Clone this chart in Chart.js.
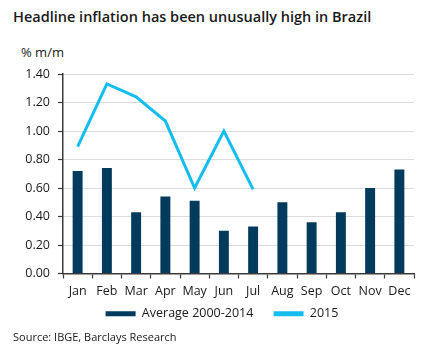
<!DOCTYPE html>
<html>
<head>
<meta charset="utf-8">
<script src="https://cdn.jsdelivr.net/npm/chart.js@4/dist/chart.umd.min.js"></script>
<style>
  html, body { margin: 0; padding: 0; background: #fff; }
  #wrap { position: relative; width: 436px; height: 364px; font-family: "Open Sans", sans-serif; color: #1a1a1a; }
  #title { position: absolute; left: 13px; top: 7px; font-size: 14.5px; font-weight: 600; white-space: nowrap; }
  #unit { position: absolute; left: 21px; top: 43px; font-size: 13px; }
  #source { position: absolute; left: 13px; top: 329px; font-size: 11px; }
  canvas { position: absolute; left: 0; top: 0; }
</style>
</head>
<body>
<div id="wrap">
  <div id="title">Headline inflation has been unusually high in Brazil</div>
  <div id="unit">% m/m</div>
  <canvas id="chart" width="436" height="364"></canvas>
  <div id="source">Source: IBGE, Barclays Research</div>
</div>
<script>
  const months = ['Jan', 'Feb', 'Mar', 'Apr', 'May', 'Jun', 'Jul', 'Aug', 'Sep', 'Oct', 'Nov', 'Dec'];
  const avg2000_2014 = [0.72, 0.74, 0.43, 0.54, 0.51, 0.30, 0.33, 0.50, 0.36, 0.43, 0.60, 0.73];
  const y2015 = [0.89, 1.33, 1.24, 1.07, 0.60, 1.00, 0.59, null, null, null, null, null];

  const NAVY = '#003a5d';
  const CYAN = '#14bdf0';
  const AXIS = '#3a3a3a';
  const font = { family: '"Open Sans", sans-serif', size: 12.5 };

  // nudge the bottom legend a bit to the right, like the original
  const legendShift = {
    id: 'legendShift',
    afterLayout(chart) {
      chart.legend.left += 10;
      chart.legend.right += 10;
    }
  };

  new Chart(document.getElementById('chart'), {
    data: {
      labels: months,
      datasets: [
        {
          type: 'line',
          label: '2015',
          data: y2015,
          borderColor: CYAN,
          backgroundColor: CYAN,
          borderWidth: 3,
          pointRadius: 0,
          tension: 0,
          order: 0
        },
        {
          type: 'bar',
          label: 'Average 2000-2014',
          data: avg2000_2014,
          backgroundColor: NAVY,
          barPercentage: 0.34,
          categoryPercentage: 1,
          order: 1
        }
      ]
    },
    options: {
      responsive: false,
      animation: false,
      layout: { padding: { top: 74, left: 10, right: 22, bottom: 34 } },
      plugins: {
        tooltip: { enabled: false },
        legend: {
          position: 'bottom',
          reverse: true,
          labels: {
            color: '#1a1a1a',
            font: { family: font.family, size: 12.5 },
            boxWidth: 30,
            boxHeight: 5,
            padding: 4,
            generateLabels(chart) {
              const items = Chart.defaults.plugins.legend.labels.generateLabels(chart);
              items.forEach(it => {
                it.lineWidth = 0;
                // wider gap after the first entry
                if (it.text !== '2015') it.text += '     ';
              });
              return items;
            }
          }
        }
      },
      scales: {
        x: {
          grid: { drawOnChartArea: false, drawTicks: true, tickLength: 5, tickColor: AXIS, tickWidth: 1.2 },
          border: { display: true, color: AXIS, width: 1.5 },
          ticks: { color: '#1a1a1a', font, padding: 5, maxRotation: 0, autoSkip: false }
        },
        y: {
          min: 0,
          max: 1.4,
          ticks: { stepSize: 0.2, color: '#1a1a1a', font, padding: 8, callback: v => v.toFixed(2) },
          grid: { color: '#b8b8b8', lineWidth: 1, tickLength: 5, tickColor: AXIS, tickWidth: 1.2 },
          border: { display: true, color: AXIS, width: 1.5, dash: [1, 1] },
          afterFit(scale) { scale.width = 53; }
        }
      }
    },
    plugins: [legendShift]
  });
</script>
</body>
</html>
